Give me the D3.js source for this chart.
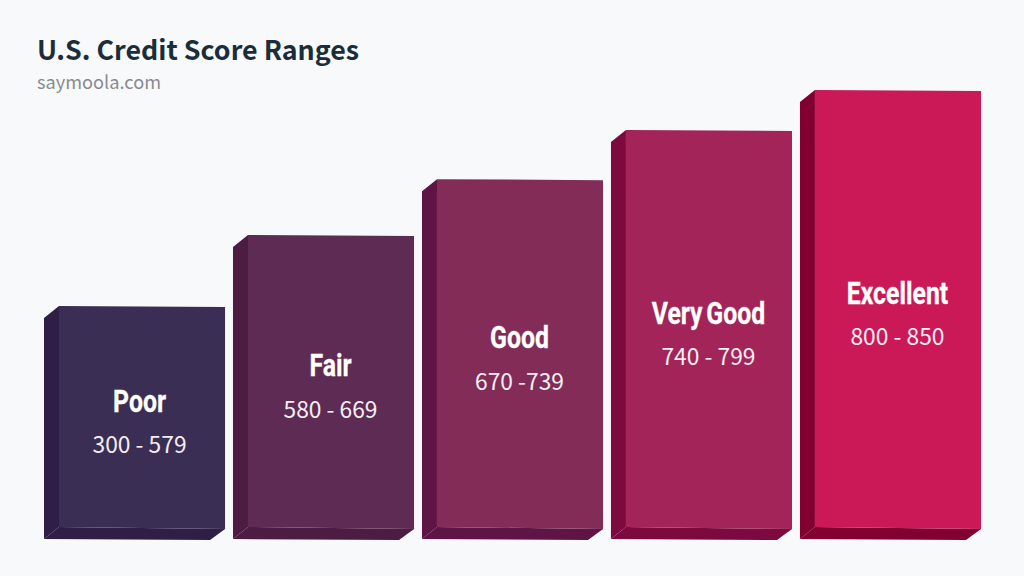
<!DOCTYPE html>
<html>
<head>
<meta charset="utf-8">
<script src="https://cdn.jsdelivr.net/npm/d3@7"></script>
<style>
  html, body { margin: 0; padding: 0; background: #f8f9fb; overflow: hidden; }
  .title { font-family: "Noto Sans CJK SC", "Noto Sans", sans-serif; font-weight: 700; font-size: 26.8px; fill: #1b2d3a; }
  .source { font-family: "Noto Sans CJK SC", "Noto Sans", sans-serif; font-size: 18.2px; fill: #8a8a8d; }
  .name { font-family: Roboto, sans-serif; font-weight: 700; font-size: 31px; word-spacing: -3px; fill: #fff; stroke: #fff; stroke-width: 0.3px; text-anchor: middle; }
  .range { font-family: "Noto Sans CJK SC", "Noto Sans", sans-serif; font-size: 22.8px; fill: #f4eef2; text-anchor: middle; }
</style>
</head>
<body>
<svg id="chart" width="1024" height="576"></svg>
<script>
const categories = ["Poor", "Fair", "Good", "Very Good", "Excellent"];
const rangeLabels = ["300 - 579", "580 - 669", "670 -739", "740 - 799", "800 - 850"];
// bar tops, on the score axis
const barTops = [577.5, 667, 737.5, 799.5, 850];
const frontColors = ["#3b2e54", "#5e2b54", "#822c57", "#a32458", "#cb1856"];
const sideColors = ["#2f1f47", "#4c1c42", "#5e1545", "#7c0a3e", "#82002f"];

const svg = d3.select("#chart");

svg.append("text").attr("class", "title").attr("x", 37).attr("y", 60).text("U.S. Credit Score Ranges");
svg.append("text").attr("class", "source").attr("x", 37).attr("y", 89).text("saymoola.com");

const x = d3.scaleBand().domain(categories).range([44, 981]).paddingInner(0.042);
const y = d3.scaleLinear().domain([300, 850]).range([527, 91]);

const depthX = 15;
const depthY = 11;
const base = y(300);
const line = d3.line();

categories.forEach((name, i) => {
  const left = x(name);
  const right = left + x.bandwidth();
  const front = left + depthX;
  const top = y(barTops[i]);
  const mid = (top + base) / 2;
  const g = svg.append("g");

  // left side
  g.append("path")
    .attr("d", line([[left, top + depthY], [front, top - 1], [front, base], [left, base + depthY + 1]]) + "Z")
    .attr("fill", sideColors[i]);

  // bottom side
  g.append("path")
    .attr("d", line([[left, base + depthY + 1], [front, base], [right, base + 2], [right - depthX, base + depthY + 2]]) + "Z")
    .attr("fill", sideColors[i]);

  // front face
  g.append("path")
    .attr("d", line([[front, top - 1], [right, top], [right, base + 2], [front, base]]) + "Z")
    .attr("fill", frontColors[i]);

  const cx = front + (right - front) / 2 - (i === 0 ? 2.5 : 0.5);
  // no condensed font installed, so squeeze the bold one
  g.append("text").attr("class", "name")
    .attr("transform", `translate(${cx},${mid - 16}) scale(0.8,1)`)
    .attr("dy", "0.35em")
    .text(name);
  g.append("text").attr("class", "range").attr("x", cx).attr("y", mid + 28).attr("dy", "0.35em").text(rangeLabels[i]);
});
</script>
</body>
</html>
